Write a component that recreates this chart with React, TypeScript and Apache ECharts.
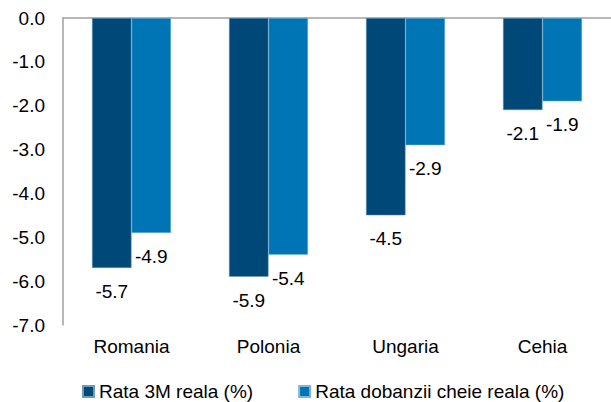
import React, { useEffect, useRef } from "react";
import * as echarts from "echarts";

const categories = ["Romania", "Polonia", "Ungaria", "Cehia"];
const rata3M = [-5.7, -5.9, -4.5, -2.1];
const rataCheie = [-4.9, -5.4, -2.9, -1.9];
const seriesNames = ["Rata 3M reala (%)", "Rata dobanzii cheie reala (%)"];

const FONT = "Liberation Sans, Arial, sans-serif";

export default function App() {
  const ref = useRef<HTMLDivElement>(null);
  useEffect(() => {
    document.body.style.margin = "0";
    const chart = echarts.init(ref.current!, null, { renderer: "svg" });
    const label = {
      show: true,
      position: "bottom",
      distance: 14,
      color: "#000",
      fontSize: 19,
      fontFamily: FONT,
      formatter: (p: any) => Number(p.value).toFixed(1),
    };
    chart.setOption({
      animation: false,
      textStyle: { fontFamily: FONT },
      grid: { left: 63, top: 18, width: 553, height: 307, containLabel: false },
      legend: {
        data: seriesNames,
        left: 77,
        top: 377,
        itemWidth: 11,
        itemHeight: 11,
        itemGap: 45,
        icon: "rect",
        textStyle: { fontSize: 19, color: "#000", fontFamily: FONT },
      },
      xAxis: [
        {
          type: "category",
          data: categories,
          position: "bottom",
          axisLine: { show: false, onZero: false },
          axisTick: { show: false },
          axisLabel: { fontSize: 19, color: "#000", margin: 12, fontFamily: FONT },
        },
        {
          type: "category",
          data: categories,
          position: "top",
          axisLine: { show: true, onZero: false, lineStyle: { color: "#a0a0a0", width: 1.5 } },
          axisTick: { show: false },
          axisLabel: { show: false },
        },
      ],
      yAxis: {
        type: "value",
        min: -7,
        max: 0,
        interval: 1,
        axisLine: { show: true, lineStyle: { color: "#a0a0a0", width: 1.5 } },
        axisTick: { show: false },
        splitLine: { show: false },
        axisLabel: {
          fontSize: 19,
          color: "#000",
          margin: 18,
          fontFamily: FONT,
          formatter: (v: number) => v.toFixed(1),
        },
      },
      series: [
        {
          name: seriesNames[0],
          type: "bar",
          xAxisIndex: 0,
          data: rata3M,
          barWidth: 39.5,
          barGap: "0%",
          itemStyle: { color: "#004878", borderColor: "#6f9cbd", borderWidth: 0.5 },
          label,
        },
        {
          name: seriesNames[1],
          type: "bar",
          xAxisIndex: 0,
          data: rataCheie,
          barWidth: 39.5,
          barGap: "0%",
          itemStyle: { color: "#0075b5", borderColor: "#7fb6d8", borderWidth: 0.5 },
          label,
        },
      ],
    });
    return () => chart.dispose();
  }, []);
  return <div ref={ref} style={{ width: 611, height: 402 }} />;
}
